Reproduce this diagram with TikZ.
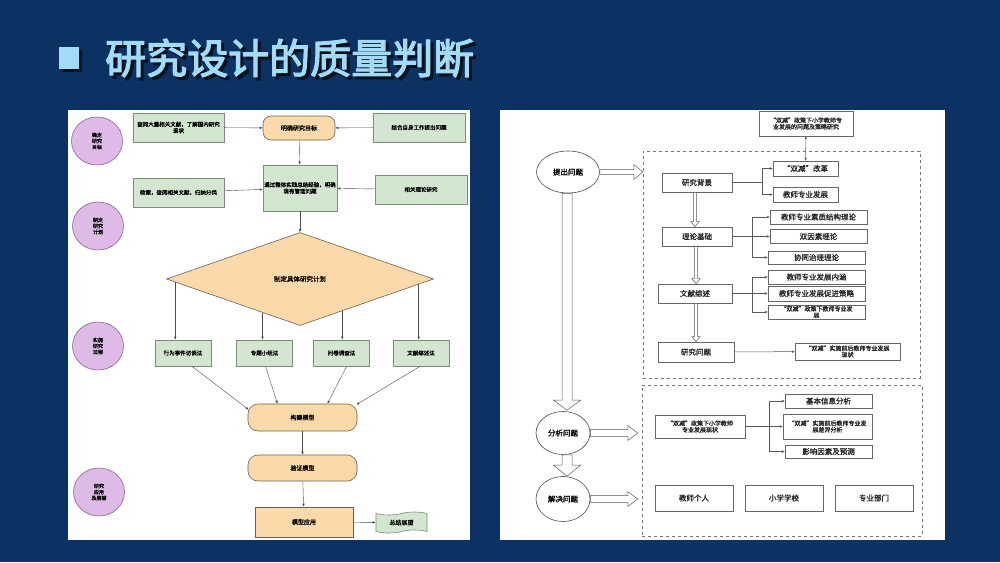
\documentclass[tikz,border=0pt]{standalone}
\usepackage{fontspec}
\setmainfont{Noto Sans CJK SC}
\newfontfamily\titlefont{Noto Sans CJK SC}[FakeBold=3]
\newfontfamily\boxfont{Noto Sans CJK SC}[FakeBold=1.2]
\usetikzlibrary{shapes.geometric,shapes.symbols,arrows.meta,calc}

\definecolor{slidebg}{HTML}{0B3263}
\definecolor{titleblue}{HTML}{A3DBF6}
\definecolor{titleshade}{HTML}{08121F}
\definecolor{stagefill}{HTML}{DDBBE6}
\definecolor{stageline}{HTML}{8E6399}
\definecolor{greenfill}{HTML}{D3E6D0}
\definecolor{greenline}{HTML}{7D8C7A}
\definecolor{orangefill}{HTML}{FCD9AA}
\definecolor{orangeline}{HTML}{6B6257}

% hollow arrows: from, to, half shaft, half head, head length
\newcommand{\fatright}[5]{%
  \draw[fatarrow] let \p1=(#1), \p2=(#2) in
    (\x1,\y1+#3pt) -- (\x2-#5pt,\y1+#3pt) -- (\x2-#5pt,\y1+#4pt) -- (\x2,\y1)
    -- (\x2-#5pt,\y1-#4pt) -- (\x2-#5pt,\y1-#3pt) -- (\x1,\y1-#3pt) -- cycle;}
\newcommand{\fatdown}[5]{%
  \draw[fatarrow] let \p1=(#1), \p2=(#2) in
    (\x1-#3pt,\y1) -- (\x1-#3pt,\y2+#5pt) -- (\x1-#4pt,\y2+#5pt) -- (\x1,\y2)
    -- (\x1+#4pt,\y2+#5pt) -- (\x1+#3pt,\y2+#5pt) -- (\x1+#3pt,\y1) -- cycle;}

\begin{document}
\begin{tikzpicture}[
		x=1pt, y=-1pt,
		every node/.style={inner sep=1pt, align=center},
		stage/.style={ellipse, draw=stageline, fill=stagefill, line width=0.6pt,
			minimum width=51pt, minimum height=48pt, font=\boxfont\fontsize{5}{6}\selectfont},
		gbox/.style={rectangle, draw=greenline, fill=greenfill, line width=0.7pt,
			font=\boxfont\fontsize{5.5}{6.5}\selectfont},
		obox/.style={rectangle, draw=orangeline, fill=orangefill, line width=0.6pt,
			font=\boxfont\fontsize{6}{7}\selectfont},
		link/.style={draw=black!70, line width=0.4pt, -{Latex[length=3pt,width=2.4pt]}},
		wbox/.style={rectangle, draw=black!60, fill=white, line width=0.6pt,
			font=\boxfont\fontsize{7.5}{8.5}\selectfont, text=black!85},
		small/.style={font=\boxfont\fontsize{6}{6.5}\selectfont},
		fork/.style={draw=black!65, line width=0.5pt},
		tip/.style={fork, -{Stealth[length=3pt,width=2.6pt]}},
		frame/.style={rectangle, draw=black!55, dashed, line width=0.5pt},
		oval/.style={ellipse, draw=black!70, fill=white, line width=0.6pt,
			font=\boxfont\fontsize{7.5}{8.5}\selectfont},
		fatarrow/.style={draw=black!65, fill=white, line width=0.5pt}
	]
  \useasboundingbox (0,0) rectangle (1000,562);
  \fill[slidebg] (0,0) rectangle (1000,562);
  % title
  \node (bullet_shade) [fill=titleshade, minimum width=20pt, minimum height=22pt, inner sep=0pt] at (72,61) {};
  \node (bullet) [fill=titleblue, minimum width=20pt, minimum height=22pt, inner sep=0pt] at (69,58) {};
  \node (title_shade) [anchor=west, text=titleshade, font=\titlefont\fontsize{41}{45}\selectfont] at (107,61) {研究设计的质量判断};
  \node (title) [anchor=west, text=titleblue, font=\titlefont\fontsize{41}{45}\selectfont] at (104,58) {研究设计的质量判断};
  % panels
  \fill[white] (68,110) rectangle (470,540);
  \fill[white] (500,110) rectangle (945,540);

  % left panel
  \node (stage_goal) [stage] at (97,141) {确定\\研究\\目标};
  \node (stage_plan) [stage] at (98,226) {制定\\研究\\计划};
  \node (stage_work) [stage] at (98,346) {实施\\研究\\过程};
  \node (stage_use) [stage] at (99,492) {研究\\应用\\及展望};

  \node (lit_read) [gbox, minimum width=91pt, minimum height=29pt] at (178.5,127.5) {查阅大量相关文献，了解国内研究\\现状};
  \node (goal) [obox, rounded corners=8pt, minimum width=72pt, minimum height=24pt] at (299,128) {明确研究目标};
  \node (self_work) [gbox, minimum width=92pt, minimum height=29pt] at (419,127.5) {结合自身工作提出问题};
  \node (sort_lit) [gbox, minimum width=91pt, minimum height=29pt] at (178.5,192.5) {检索，查阅相关文献，归纳分类};
  \node (design) [gbox, minimum width=74pt, minimum height=46pt] at (300,188) {通过整体实践总结经验，明确\\现有管理问题};
  \node (theory) [gbox, minimum width=92pt, minimum height=29pt] at (421,189.5) {相关理论研究};
  \node (plan) [diamond, draw=orangeline, fill=orangefill, line width=0.6pt, minimum width=267pt,
    minimum height=93pt, font=\boxfont\fontsize{6.5}{7.5}\selectfont] at (300,279) {制定具体研究计划};

  \node (act) [gbox, minimum width=56pt, minimum height=26pt] at (183,353) {行为事件访谈法};
  \node (panel) [gbox, minimum width=56pt, minimum height=26pt] at (264.5,353) {专题小组法};
  \node (survey) [gbox, minimum width=56pt, minimum height=26pt] at (341.5,353) {问卷调查法};
  \node (docs) [gbox, minimum width=56pt, minimum height=26pt] at (421,353) {文献综述法};

  \node (build) [obox, rounded corners=10pt, minimum width=109pt, minimum height=27pt] at (302.5,417.5) {构建模型};
  \node (check) [obox, rounded corners=10pt, minimum width=109pt, minimum height=26pt] at (302.5,468) {验证模型};
  \node (apply) [obox, minimum width=98pt, minimum height=30pt] at (304,522) {模型应用};
  \node (summary) [tape, draw=greenline, fill=greenfill, line width=0.6pt, minimum width=51pt,
    minimum height=21pt, tape bend height=3pt, font=\boxfont\fontsize{6}{7}\selectfont] at (401.5,522.5) {总结展望};

  \draw[link] (lit_read) -- (goal);
  \draw[link] (self_work) -- (goal);
  \draw[link] (goal) -- (design);
  \draw[link] (sort_lit) -- (design);
  \draw[link] (theory) -- (design);
  \draw[link] (design) -- (plan);
  \coordinate (plan_a) at ($(plan.west)!0.068!(plan.south)$);
  \coordinate (plan_b) at ($(plan.west)!0.72!(plan.south)$);
  \coordinate (plan_c) at ($(plan.south)!0.316!(plan.east)$);
  \coordinate (plan_d) at ($(plan.south)!0.887!(plan.east)$);
  \draw[link] (plan_a) -- (plan_a |- act.north);
  \draw[link] (plan_b) -- (plan_b |- panel.north);
  \draw[link] (plan_c) -- (plan_c |- survey.north);
  \draw[link] (plan_d) -- (plan_d |- docs.north);
  \draw[link] ([xshift=9pt]act.south) -- ($(build.north west)+(1,6)$);
  \draw[link] ([xshift=1pt]panel.south) -- ($(build.north)+(-25,0)$);
  \draw[link] ([xshift=5pt]survey.south) -- ($(build.north)+(25,0)$);
  \draw[link] ([xshift=-1pt]docs.south) -- ($(build.north east)+(-1,1)$);
  \draw[link] (build) -- (check);
  \draw[link] (check) -- (apply);
  \draw[link] (apply) -- (summary);

  % right panel
  \node (frame_ask) [frame, minimum width=277pt, minimum height=227pt] at (781.5,264.5) {};
  \node (frame_solve) [frame, minimum width=280pt, minimum height=151pt] at (782,460.5) {};
  \node (ask) [oval, minimum width=63pt, minimum height=42pt] at (568,172) {提出问题};
  \node (analyze) [oval, minimum width=54pt, minimum height=43pt] at (563,433) {分析问题};
  \node (solve) [oval, minimum width=54pt, minimum height=45pt] at (563,499) {解决问题};

  \node (topic) [wbox, small, minimum width=94pt, minimum height=25pt] at (806,123.5) {“双减”政策下小学教师专\\业发展的问题及策略研究};
  \node (bg) [wbox, minimum width=70pt, minimum height=19pt] at (697,182.5) {研究背景};
  \node (reform) [wbox, minimum width=65pt, minimum height=15pt] at (805.5,168.5) {“双减”改革};
  \node (growth) [wbox, minimum width=65pt, minimum height=15pt] at (805.5,194.5) {教师专业发展};
  \node (basis) [wbox, minimum width=70pt, minimum height=19pt] at (697,236.5) {理论基础};
  \node (th_a) [wbox, minimum width=97pt, minimum height=14pt] at (818.5,217) {教师专业素质结构理论};
  \node (th_b) [wbox, minimum width=97pt, minimum height=14pt] at (818.5,236.5) {双因素理论};
  \node (th_c) [wbox, minimum width=97pt, minimum height=13pt] at (816.5,257.5) {协同治理理论};
  \node (review) [wbox, minimum width=74pt, minimum height=19pt] at (695,293.5) {文献综述};
  \node (rv_a) [wbox, minimum width=97pt, minimum height=14pt] at (816.5,277) {教师专业发展内涵};
  \node (rv_b) [wbox, minimum width=97pt, minimum height=15pt] at (816.5,293.5) {教师专业发展促进策略};
  \node (rv_c) [wbox, small, minimum width=97pt, minimum height=14pt] at (816.5,312) {“双减”政策下教师专业发\\展};
  \node (question) [wbox, minimum width=76pt, minimum height=20pt] at (696,352) {研究问题};
  \node (status) [wbox, small, minimum width=105pt, minimum height=17pt] at (847.5,351.5) {“双减”实施前后教师专业发展\\现状};

  \node (now) [wbox, small, minimum width=90pt, minimum height=23pt] at (700,426.5) {“双减”政策下小学教师\\专业发展现状};
  \node (an_a) [wbox, minimum width=87pt, minimum height=14pt] at (828.5,401) {基本信息分析};
  \node (an_b) [wbox, small, minimum width=89pt, minimum height=25pt] at (827.5,426.5) {“双减”实施前后教师专业发\\展差异分析};
  \node (an_c) [wbox, minimum width=87pt, minimum height=13pt] at (828.5,451.5) {影响因素及预测};
  \node (sv_a) [wbox, minimum width=78pt, minimum height=26pt] at (694,498) {教师个人};
  \node (sv_b) [wbox, minimum width=78pt, minimum height=26pt] at (784,498) {小学学校};
  \node (sv_c) [wbox, minimum width=78pt, minimum height=26pt] at (874,498) {专业部门};

  % hollow arrows
  \fatright{ask.east}{ask.east -| frame_ask.west}{2.3}{7.5}{9}
  \fatright{analyze.east}{$(analyze.east -| frame_solve.west)+(-4,0)$}{3.3}{7.5}{10}
  \fatright{solve.east}{$(solve.east -| frame_solve.west)+(-4,0)$}{3.3}{7.5}{10}
  \fatdown{$(ask.south)+(-1,0)$}{$(analyze.north)+(4,-1)$}{5}{13.5}{10}
  \fatdown{$(analyze.south)+(4,0)$}{$(solve.north)+(4,0)$}{5}{13.5}{11}
  \fatdown{$(bg.south)+(-2,0)$}{$(basis.north)+(-2,0)$}{1.7}{4}{5}
  \fatdown{$(basis.south)+(-1,0)$}{$(review.north)+(1,0)$}{1.7}{4}{5}
  \fatdown{$(review.south)+(1,0)$}{$(question.north)+(0,0)$}{1.7}{4}{5}

  % branches
  \draw[fork, {Stealth[length=3pt,width=2.6pt]}-{Stealth[length=3pt,width=2.6pt]}] (topic) -- (reform);
  \coordinate (bg_fork) at (762,182.5);
  \draw[fork] (bg) -- (bg_fork);
  \draw[tip] (bg_fork) |- (reform);
  \draw[tip] (bg_fork) |- (growth);
  \coordinate (basis_fork) at (752,236.5);
  \draw[tip] (basis) -- (th_b);
  \draw[tip] (basis_fork) |- (th_a);
  \draw[tip] (basis_fork) |- (th_c);
  \coordinate (review_fork) at (752,293.5);
  \draw[tip] (review) -- (rv_b);
  \draw[tip] (review_fork) |- (rv_a);
  \draw[tip] (review_fork) |- (rv_c);
  \draw[tip] (question) -- (status);
  \coordinate (now_fork) at (769,426.5);
  \draw[tip] (now) -- (an_b);
  \draw[tip] (now_fork) |- (an_a);
  \draw[tip] (now_fork) |- (an_c);
\end{tikzpicture}
\end{document}
